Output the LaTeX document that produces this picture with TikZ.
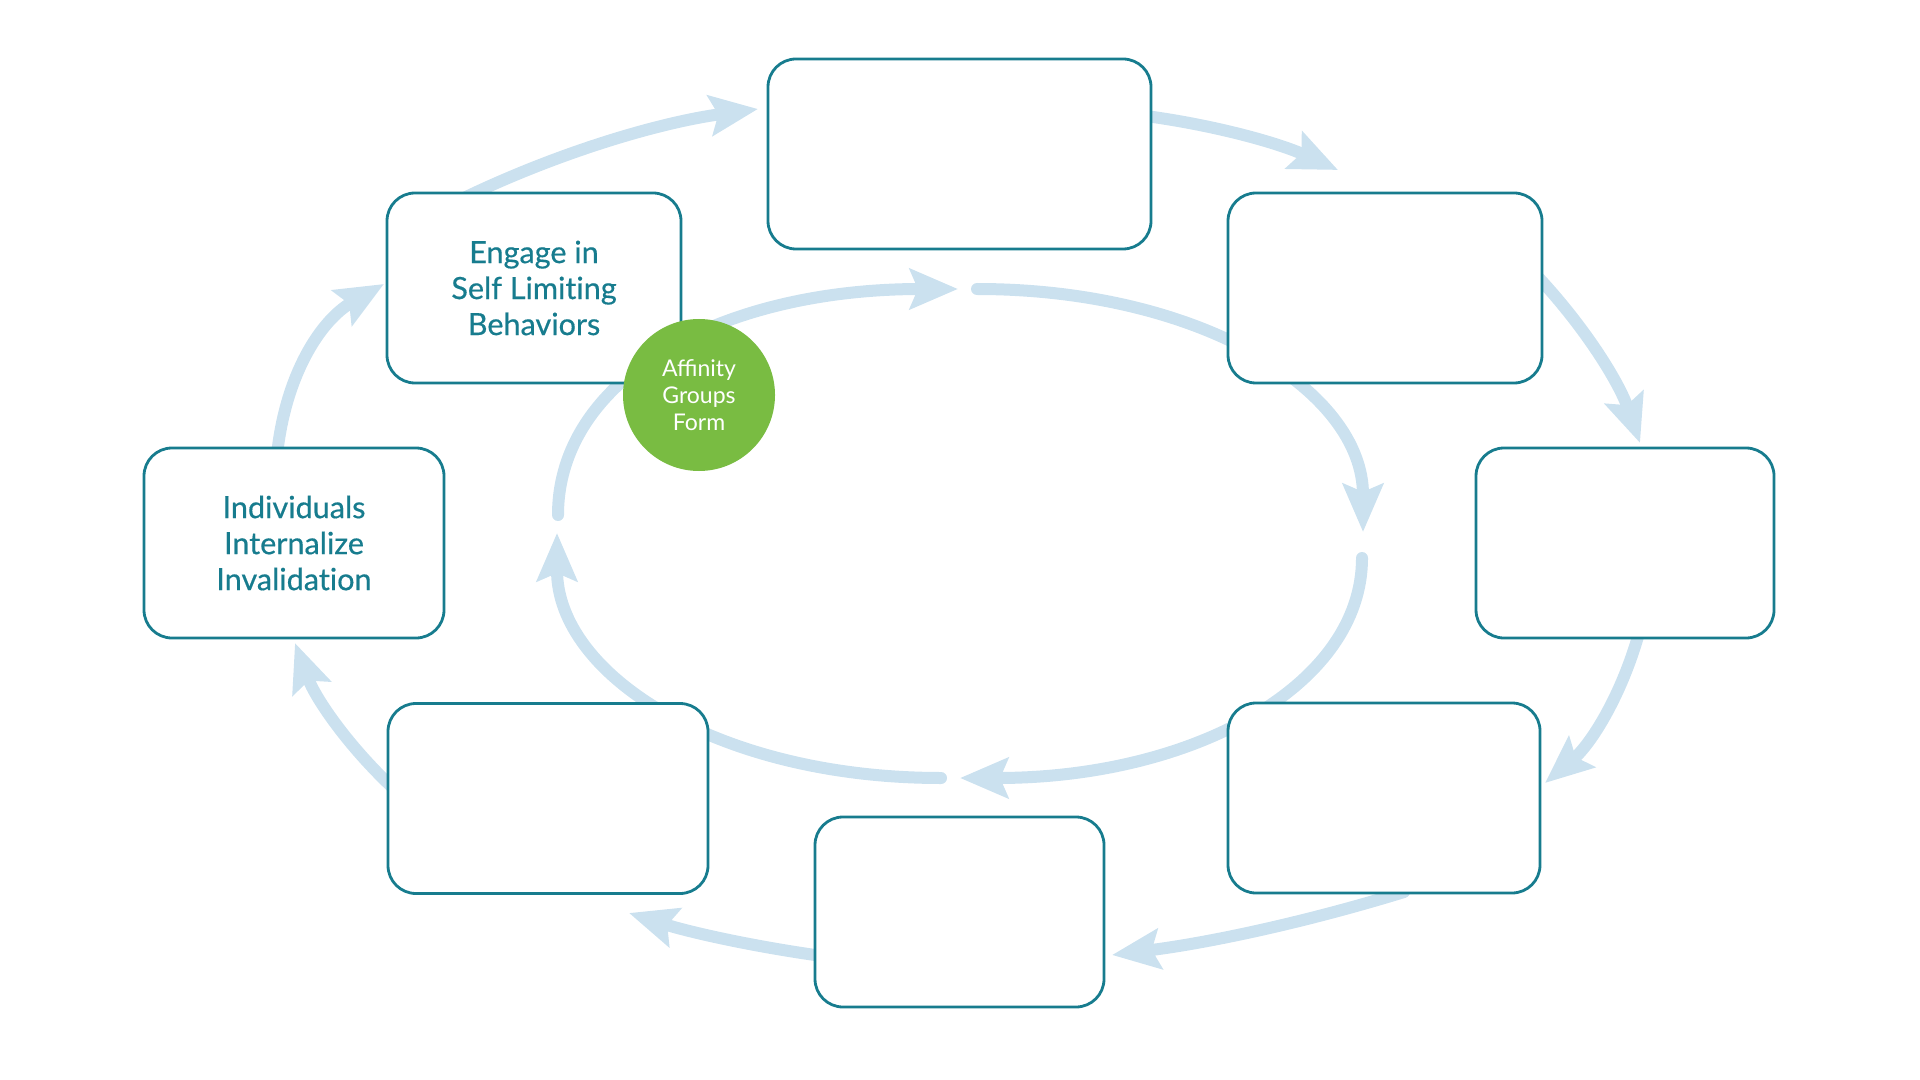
\documentclass[tikz,border=0pt]{standalone}
\usepackage{fontspec}
\setmainfont{Lato}
\newfontfamily\labelfont{Lato}[FakeBold=0.45,Ligatures=NoCommon]
\usetikzlibrary{arrows.meta}
\pgfdeclarelayer{bg}
\pgfsetlayers{bg,main}
\definecolor{arrowblue}{HTML}{CBE1EF}
\definecolor{boxteal}{HTML}{177C8E}
\definecolor{affgreen}{HTML}{79BC42}
\begin{document}
\begin{tikzpicture}[x=0.5pt,y=-0.5pt,
  cyc/.style={draw=arrowblue, line width=6pt, line cap=round,
    -{Stealth[length=24pt,width=20pt,inset=4pt]}},
  stepbox/.style={draw=boxteal, line width=1.4pt, fill=white, rounded corners=14pt,
    minimum height=95pt, inner sep=0pt, text=boxteal, align=center,
    font=\labelfont\fontsize{15.3}{18}\selectfont},
  hub/.style={circle, fill=affgreen, minimum size=76pt, inner sep=0pt, text=white,
    align=center, font=\fontsize{11.5}{13.5}\selectfont}]
\useasboundingbox (0,0) rectangle (1920,1080);

% step boxes
\node[stepbox, minimum width=191.5pt] (top) at (959.5,154) {};
\node[stepbox, minimum width=157pt] (tr) at (1385,288) {};
\node[stepbox, minimum width=149pt] (r) at (1625,543) {};
\node[stepbox, minimum width=156pt] (br) at (1384,798) {};
\node[stepbox, minimum width=144.5pt] (b) at (959.5,912) {};
\node[stepbox, minimum width=160pt] (bl) at (548,798.5) {};
\node[stepbox, minimum width=150pt] (l) at (294,543) {Individuals\\Internalize\\Invalidation};
\node[stepbox, minimum width=147pt] (tl) at (534,288) {Engage in\\Self Limiting\\Behaviors};
\node[hub] (hub) at (699,395) {Affinity\\Groups\\Form};

% connector end points
\coordinate (o1s) at (466,197);  \coordinate (o1e) at (758,109);
\coordinate (o2s) at (1146,116); \coordinate (o2e) at (1338,170);
\coordinate (o3s) at (1538,277); \coordinate (o3e) at (1640,443);
\coordinate (o4s) at (1639,633); \coordinate (o4e) at (1545,783);
\coordinate (o5s) at (1404,892); \coordinate (o5e) at (1112,955);
\coordinate (o6s) at (822,956);  \coordinate (o6e) at (629,913);
\coordinate (o7s) at (393,788);  \coordinate (o7e) at (295,643);
\coordinate (o8s) at (277,455);  \coordinate (o8e) at (384,284);
\coordinate (i1s) at (558,515);  \coordinate (i1e) at (958,289);
\coordinate (i2s) at (977,289);  \coordinate (i2e) at (1363,532);
\coordinate (i3s) at (1362,558); \coordinate (i3e) at (960,778);
\coordinate (i4s) at (941,778);  \coordinate (i4e) at (557,533);

\begin{pgfonlayer}{bg}
% outer cycle
\draw[cyc] (o1s) .. controls (560,152) and (658.9,122.6) .. (o1e);
\draw[cyc] (o2s) .. controls (1217.3,125.7) and (1278.9,143.3) .. (o2e);
\draw[cyc] (o3s) .. controls (1586.7,329.4) and (1619.1,382.8) .. (o3e);
\draw[cyc] (o4s) .. controls (1620.9,697.1) and (1590.3,744.7) .. (o4e);
\draw[cyc] (o5s) .. controls (1303.6,922.8) and (1208.6,942.8) .. (o5e);
\draw[cyc] (o6s) .. controls (751.8,946.2) and (689.8,932.2) .. (o6e);
\draw[cyc] (o7s) .. controls (345.9,743.7) and (314.9,697.1) .. (o7e);
\draw[cyc] (o8s) .. controls (285.4,374.5) and (320.8,320.1) .. (o8e);
% inner cycle
\draw[cyc] (i1s) .. controls (558,379.4) and (718,289) .. (i1e);
\draw[cyc] (i2s) .. controls (1201,289) and (1363,391) .. (i2e);
\draw[cyc] (i3s) .. controls (1362,685.6) and (1193,778) .. (i3e);
\draw[cyc] (i4s) .. controls (718,778) and (557,675) .. (i4e);
\end{pgfonlayer}
\end{tikzpicture}
\end{document}
